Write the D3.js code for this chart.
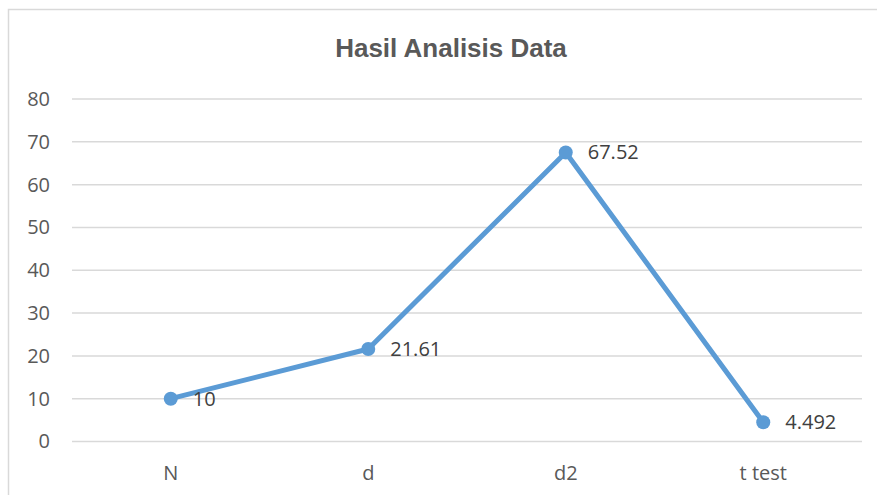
<!DOCTYPE html>
<meta charset="utf-8">
<title>Hasil Analisis Data</title>
<style>
  body { margin: 0; background: #fff; }
  text { font-family: "Open Sans", "Noto Sans", sans-serif; }
</style>
<body>
<div id="chart"></div>
<script src="https://d3js.org/d3.v7.min.js"></script>
<script>
// chart data
var categories = ["N", "d", "d2", "t test"];
var values = [10, 21.61, 67.52, 4.492];
var valueLabels = ["10", "21.61", "67.52", "4.492"];
var yTicks = [0, 10, 20, 30, 40, 50, 60, 70, 80];
var chartTitle = "Hasil Analisis Data";

var W = 877, H = 495;
var margin = {top: 99, right: 15, bottom: 53.5, left: 72};
var width = W - margin.left - margin.right,
    height = H - margin.top - margin.bottom;

var svg = d3.select("#chart").append("svg")
    .attr("width", W)
    .attr("height", H);

// outer chart border
svg.append("rect")
    .attr("x", 8.5).attr("y", 9.5)
    .attr("width", 880).attr("height", 500)
    .attr("fill", "none")
    .attr("stroke", "#d9d9d9")
    .attr("stroke-width", 1.5);

svg.append("text")
    .attr("x", 451).attr("y", 57)
    .attr("text-anchor", "middle")
    .style("font-family", "'Liberation Sans', Arial, sans-serif")
    .style("font-weight", "bold")
    .style("font-size", "26px")
    .attr("fill", "#595959")
    .text(chartTitle);

var g = svg.append("g")
    .attr("transform", "translate(" + margin.left + "," + margin.top + ")");

var x = d3.scaleBand().domain(categories).range([0, width]);
var y = d3.scaleLinear().domain([0, 80]).range([height, 0]);

// gridlines
g.append("g").selectAll("line")
    .data(yTicks)
    .enter().append("line")
    .attr("x1", 0).attr("x2", width)
    .attr("y1", function(d) { return y(d); })
    .attr("y2", function(d) { return y(d); })
    .attr("stroke", "#d9d9d9")
    .attr("stroke-width", 1.5);

// y axis labels
var yAxis = g.append("g")
    .call(d3.axisLeft(y).tickValues(yTicks).tickSize(0).tickPadding(22));
yAxis.select(".domain").remove();
yAxis.selectAll("text")
    .style("font-size", "20px")
    .attr("fill", "#595959");

// x axis labels
var xAxis = g.append("g")
    .attr("transform", "translate(0," + height + ")")
    .call(d3.axisBottom(x).tickSize(0).tickPadding(24));
xAxis.select(".domain").remove();
xAxis.selectAll("text")
    .style("font-size", "20px")
    .attr("fill", "#595959");

var pts = categories.map(function(c, i) { return {c: c, v: values[i], lab: valueLabels[i]}; });
var cx = function(d) { return x(d.c) + x.bandwidth() / 2; };

g.append("path")
    .datum(pts)
    .attr("fill", "none")
    .attr("stroke", "#5b9bd5")
    .attr("stroke-width", 5)
    .attr("stroke-linejoin", "round")
    .attr("d", d3.line().x(cx).y(function(d) { return y(d.v); }));

g.selectAll("circle.pt")
    .data(pts)
    .enter().append("circle")
    .attr("class", "pt")
    .attr("cx", cx)
    .attr("cy", function(d) { return y(d.v); })
    .attr("r", 7)
    .attr("fill", "#5b9bd5");

g.selectAll("text.lab")
    .data(pts)
    .enter().append("text")
    .attr("class", "lab")
    .attr("x", function(d) { return cx(d) + 22; })
    .attr("y", function(d) { return y(d.v); })
    .attr("dy", "0.35em")
    .style("font-size", "20px")
    .attr("fill", "#404040")
    .text(function(d) { return d.lab; });
</script>
</body>
